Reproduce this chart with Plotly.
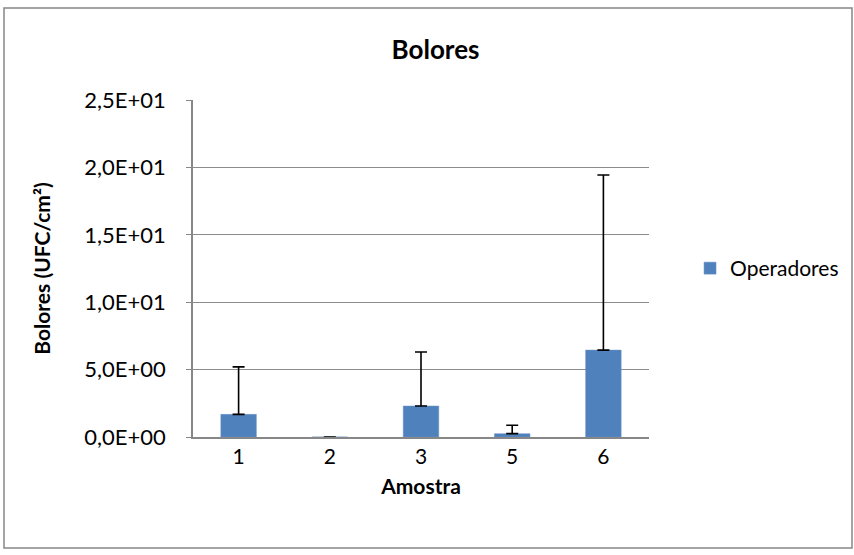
import plotly.graph_objects as go

categories = ["1", "2", "3", "5", "6"]
values = [1.68, 0.0, 2.30, 0.25, 6.45]
errors = [3.53, 0.0, 4.01, 0.62, 13.0]
tick_vals = [0, 5, 10, 15, 20, 25]
tick_text = ["0,0E+00", "5,0E+00", "1,0E+01", "1,5E+01", "2,0E+01", "2,5E+01"]

font = "Lato, 'Open Sans', sans-serif"
W, H = 854, 555
L, R, T, B = 193, 205, 100, 118
pw, ph = W - L - R, H - T - B

fig = go.Figure()
fig.add_trace(go.Bar(
    x=categories, y=values, name="Operadores",
    marker=dict(color="#4F81BD", line=dict(color="#6A95C9", width=0.5)),
    error_y=dict(type="data", array=errors, arrayminus=[0]*5, symmetric=False,
                 color="black", thickness=1.6, width=6),
))

fig.update_layout(
    width=W, height=H,
    margin=dict(l=L, r=R, t=T, b=B, autoexpand=False),
    paper_bgcolor="white", plot_bgcolor="white",
    font=dict(family=font, size=21, color="black"),
    title=dict(text="<b>Bolores</b>", x=0.51, xanchor="center", y=0.91, yanchor="middle",
               font=dict(size=26, family=font)),
    bargap=0.61,
    showlegend=True,
    legend=dict(x=1.09, y=0.5, xanchor="left", yanchor="middle",
                font=dict(size=21, family=font), itemwidth=30),
    xaxis=dict(title=dict(text="<b>Amostra</b>", font=dict(size=21), standoff=12),
               showline=True, linecolor="#878787", linewidth=1.5,
               ticks="", tickfont=dict(size=21), ticklabelstandoff=0),
    yaxis=dict(title=dict(text="<b>Bolores (UFC/cm²)</b>", font=dict(size=21), standoff=28),
               range=[0, 25.02], tickvals=tick_vals, ticktext=tick_text,
               showgrid=True, gridcolor="#8C8C8C", gridwidth=1.2,
               showline=True, linecolor="#878787", linewidth=1.5,
               ticks="outside", ticklen=5, tickcolor="#878787",
               tickfont=dict(size=22), zeroline=False, ticklabelstandoff=16),
    shapes=[dict(type="rect", xref="paper", yref="paper",
                 x0=(4 - L) / pw, x1=(852 - L) / pw,
                 y0=(H - 548 - B) / ph, y1=(H - 8 - B) / ph,
                 line=dict(color="#878787", width=1.5))],
)

fig.write_html("out.html", config={"displayModeBar": False},
               post_script="document.body.style.margin='0';")
